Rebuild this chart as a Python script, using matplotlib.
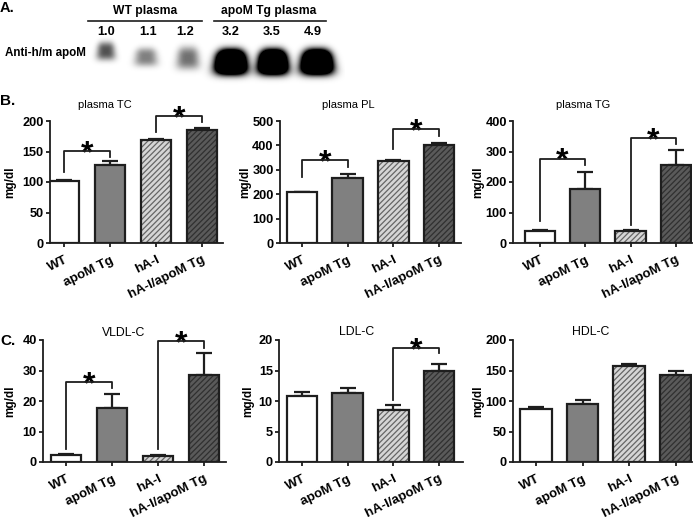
import numpy as np
import matplotlib
matplotlib.use("Agg")
import matplotlib.pyplot as plt
from matplotlib.transforms import offset_copy

plt.rcParams['font.family'] = ['Liberation Sans', 'DejaVu Sans']
plt.rcParams['hatch.linewidth'] = 0.9

# ---- data ----
categories = ["WT", "apoM Tg", "hA-I", "hA-I/apoM Tg"]

band_ratio = [1.0, 1.1, 1.2, 3.2, 3.5, 4.9]
band_darkness = [0.68, 0.5, 0.56, 3.0, 3.0, 3.0]

tc_mean = [102, 128, 169, 186]
tc_err = [2, 6, 2, 3]
pl_mean = [207, 268, 335, 400]
pl_err = [4, 13, 6, 11]
tg_mean = [40, 178, 38, 257]
tg_err = [4, 54, 5, 49]
vldl_mean = [2.3, 17.7, 1.9, 28.6]
vldl_err = [0.4, 4.7, 0.4, 7.3]
ldl_mean = [10.9, 11.3, 8.6, 14.9]
ldl_err = [0.6, 0.8, 0.7, 1.2]
hdl_mean = [87, 95.6, 158, 142.6]
hdl_err = [2.5, 6, 2.7, 7]

# significance brackets: (bar i, bar j, bracket level, left leg end, right leg end)
tc_sig = [(0, 1, 151, 116, 141), (2, 3, 208, 182, 198)]
pl_sig = [(0, 1, 340, 271, 312), (2, 3, 466, 384, 438)]
tg_sig = [(0, 1, 277, 71, 257), (2, 3, 343, 60, 326)]
vldl_sig = [(0, 1, 26.2, 4.3, 24.2), (2, 3, 39.7, 4.3, 37.5)]
ldl_sig = [(2, 3, 18.7, 10.2, 17.8)]
hdl_sig = []

W, H = 700, 520
fig = plt.figure(figsize=(7, 5.2), dpi=100)
fig.patch.set_facecolor('white')

EDGE = '#1e1e1e'
faces = ['white', '#808080', '#d6d6d6', '#5a5a5a']
hatch_cols = ['white', '#808080', '#666666', '#303030']
hatches = [None, None, '//////', '//////']


def px_axes(left, right, top, bottom):
    return fig.add_axes([left / W, 1 - bottom / H, (right - left) / W, (bottom - top) / H])


# ---- panel A: western blot ----
axA = fig.add_axes([0, 1 - 90 / H, 1, 90 / H])
axA.set_xlim(0, 700)
axA.set_ylim(90, 0)
axA.axis('off')

band_x = [106, 146, 188, 231, 273, 317]
band_y = [51, 57, 58, 62, 62, 62]
band_wx = [9, 11, 11, 15, 14, 15]
band_wy = [9, 9, 11, 12, 12, 12]
xs = np.arange(85, 345) + 0.5
ys = np.arange(36, 86) + 0.5
X, Y = np.meshgrid(xs, ys)
dark = np.zeros_like(X)
for cx, cy, wx, wy, amp in zip(band_x, band_y, band_wx, band_wy, band_darkness):
    wxx = wx * (1 + 0.12 * (Y - cy) / wy)
    dark += amp * np.exp(-(np.abs(X - cx) / wxx) ** 3 - (np.abs(Y - cy) / wy) ** 3)
img = 1 - np.clip(dark, 0, 1)
axA.imshow(img, cmap='gray', vmin=0, vmax=1, extent=(85, 345, 86, 36),
           interpolation='bilinear', aspect='auto')

axA.text(0, 8, "A.", fontsize=10.5, fontweight='bold', va='center', ha='left')
axA.text(145, 11, "WT plasma", fontsize=8.7, fontweight='bold', ha='center', va='center')
axA.text(269, 11, "apoM Tg plasma", fontsize=8.7, fontweight='bold', ha='center', va='center')
axA.plot([88, 202], [21, 21], color=EDGE, lw=1.2)
axA.plot([214, 326], [21, 21], color=EDGE, lw=1.2)
num_x = [106, 148, 185, 231, 272, 313]
for xx, v in zip(num_x, band_ratio):
    axA.text(xx, 32, f"{v:.1f}", fontsize=9.2, fontweight='bold', ha='center', va='center')
axA.text(5, 53, "Anti-h/m apoM", fontsize=8.4, fontweight='bold', ha='left', va='center')


# ---- bar panels ----
def bar_panel(box, xgeom, means, errs, sig, ymax, ystep, title, title_xy, title_size, ylab_x):
    left, right, top, bottom = box
    c0, sp = xgeom
    ax = px_axes(left, right, top, bottom)
    x = np.arange(len(means))
    bw = 0.67
    for k in range(len(means)):
        ax.bar(x[k], means[k], width=bw, color=faces[k], edgecolor=hatch_cols[k],
               hatch=hatches[k], linewidth=0, zorder=2)
    ax.bar(x, means, width=bw, facecolor='none', edgecolor=EDGE, linewidth=1.6, zorder=3)
    ax.errorbar(x, means, yerr=[np.zeros(len(errs)), errs], fmt='none', ecolor=EDGE,
                elinewidth=1.6, capsize=6, capthick=1.6, zorder=1)

    star_tr = offset_copy(ax.transData, fig=fig, y=-8, units='points')
    for i, j, lev, le, re in sig:
        ax.plot([x[i], x[i], x[j], x[j]], [le, lev, lev, re], color=EDGE, lw=1.3,
                clip_on=False, zorder=4)
        ax.text((x[i] + x[j]) / 2, lev, "*", transform=star_tr, ha='center',
                va='baseline', fontsize=23, fontweight='bold', clip_on=False)

    ax.set_xlim((left - c0) / sp, (right - c0) / sp)
    ax.set_ylim(0, ymax)
    yt = np.arange(0, ymax + ystep / 2, ystep)
    ax.set_yticks(yt)
    ax.set_yticklabels([f"{t:g}" for t in yt], fontweight='bold', fontsize=9.2)
    ax.set_xticks(x)
    ax.set_xticklabels(categories, rotation=26, ha='right', va='top',
                       rotation_mode='anchor', fontweight='bold', fontsize=9.5)
    ax.tick_params(axis='y', direction='out', length=3, width=1.3, pad=1.5, color=EDGE)
    ax.tick_params(axis='x', direction='out', length=3, width=1.3, pad=5, color=EDGE)
    for s in ['top', 'right']:
        ax.spines[s].set_visible(False)
    for s in ['left', 'bottom']:
        ax.spines[s].set_linewidth(1.3)
        ax.spines[s].set_color(EDGE)
    ax.set_facecolor('none')

    ax.set_ylabel("mg/dl", fontsize=8.5, fontweight='bold', va='center')
    ax.yaxis.set_label_coords((ylab_x - left) / (right - left), 0.5)
    fig.text(title_xy[0] / W, 1 - title_xy[1] / H, title, fontsize=title_size,
             ha='center', va='center')
    return ax


rowB = (121, 243)
rowC = (340, 462)

bar_panel((50, 223) + rowB, (64, 46), tc_mean, tc_err, tc_sig, 200, 50,
          "plasma TC", (105, 105), 8, 10)
bar_panel((280, 461) + rowB, (302, 45.7), pl_mean, pl_err, pl_sig, 500, 100,
          "plasma PL", (348, 105), 8, 245)
bar_panel((513, 692) + rowB, (540, 45.3), tg_mean, tg_err, tg_sig, 400, 100,
          "plasma TG", (583, 105), 8, 478)
bar_panel((43, 226) + rowC, (66, 46), vldl_mean, vldl_err, vldl_sig, 40, 10,
          "VLDL-C", (124, 333), 8.8, 10)
bar_panel((279, 463) + rowC, (302, 45.7), ldl_mean, ldl_err, ldl_sig, 20, 5,
          "LDL-C", (357, 332), 8.8, 248)
bar_panel((513, 692) + rowC, (536, 46.5), hdl_mean, hdl_err, hdl_sig, 200, 50,
          "HDL-C", (591, 332), 8.8, 478)

fig.text(0 / W, 1 - 101 / H, "B.", fontsize=11, fontweight='bold', ha='left', va='center')
fig.text(0 / W, 1 - 341 / H, "C.", fontsize=11, fontweight='bold', ha='left', va='center')

fig.savefig("out.png", dpi=100, facecolor='white')
